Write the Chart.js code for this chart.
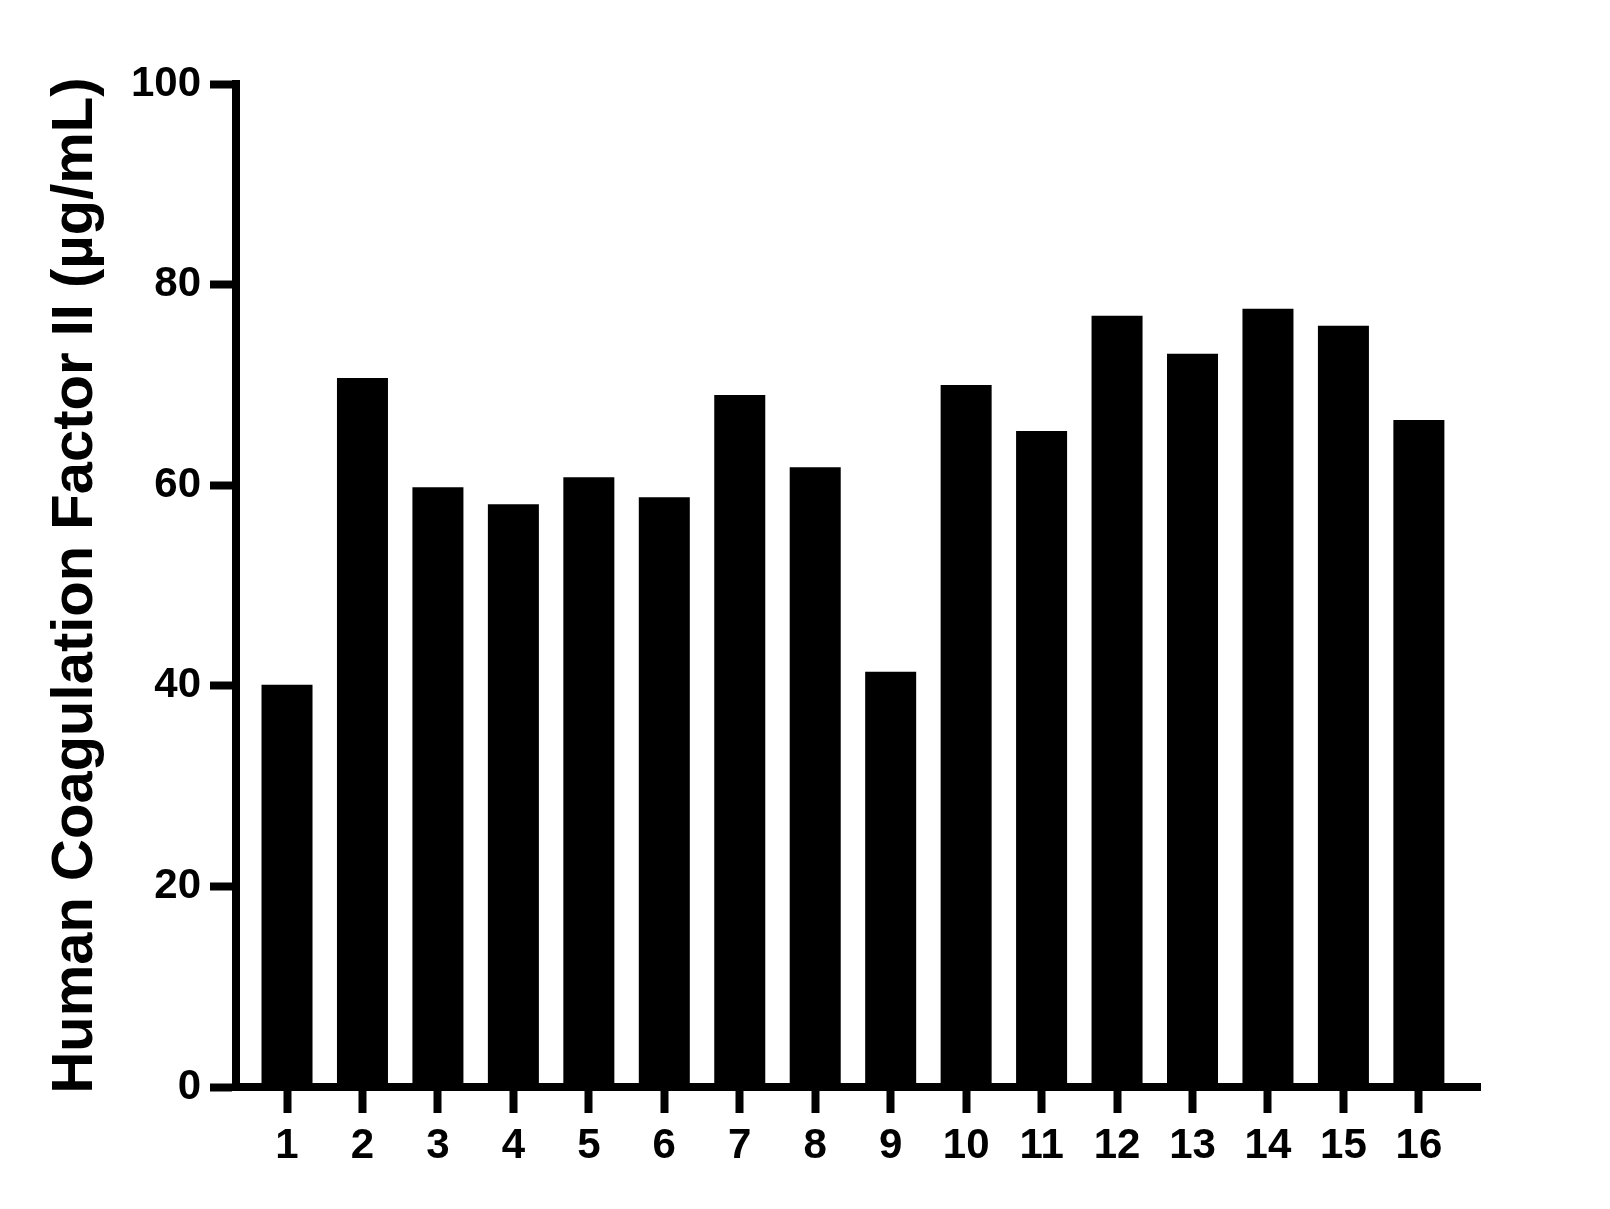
<!DOCTYPE html>
<html>
<head>
<meta charset="utf-8">
<script src="https://cdn.jsdelivr.net/npm/chart.js@4"></script>
<style>
  html, body { margin: 0; padding: 0; background: #fff; }
  #wrap { width: 1610px; height: 1209px; }
</style>
</head>
<body>
<div id="wrap"><canvas id="factor-chart"></canvas></div>
<script>
// sample numbers on the x axis
const samples = ['1', '2', '3', '4', '5', '6', '7', '8', '9', '10', '11', '12', '13', '14', '15', '16'];
// Human Coagulation Factor II, µg/mL
const concentrations = [40.1, 70.7, 59.8, 58.1, 60.8, 58.8, 69.0, 61.8, 41.4, 70.0, 65.4, 76.9, 73.1, 77.6, 75.9, 66.5];
const yTicks = [0, 20, 40, 60, 80, 100];

const ctx = document.getElementById('factor-chart');
const font = "'Liberation Sans', Arial, sans-serif";

new Chart(ctx, {
    type: 'bar',
    data: {
        datasets: [{
            data: samples.map((s, i) => ({ x: i + 1, y: concentrations[i] })),
            backgroundColor: '#000',
            borderWidth: 0,
            categoryPercentage: 1,
            barPercentage: 0.676
        }]
    },
    options: {
        responsive: true,
        maintainAspectRatio: false,
        animation: false,
        layout: { padding: { top: 84, right: 130, left: 0, bottom: 0 } },
        plugins: { legend: { display: false }, tooltip: { enabled: false } },
        scales: {
            x: {
                type: 'linear',
                offset: false,
                min: 0.324,
                max: 16.81,
                afterFit: (s) => { s.height = 122; },
                afterBuildTicks: (s) => { s.ticks = samples.map((c, i) => ({ value: i + 1 })); },
                border: { display: true, color: '#000', width: 8 },
                grid: { offset: false, drawOnChartArea: false, drawTicks: true, tickLength: 26, tickWidth: 8, tickColor: '#000' },
                ticks: {
                    autoSkip: false,
                    maxRotation: 0,
                    padding: 8,
                    color: '#000',
                    font: { family: font, size: 42, weight: 'bold' },
                    callback: (v) => samples[v - 1]
                }
            },
            y: {
                min: 0,
                max: 100,
                afterFit: (s) => { s.width = 236; },
                afterBuildTicks: (s) => { s.ticks = yTicks.map(v => ({ value: v })); },
                border: { display: true, color: '#000', width: 8 },
                grid: { drawOnChartArea: false, drawTicks: true, tickLength: 26, tickWidth: 8, tickColor: '#000' },
                ticks: {
                    padding: 9,
                    color: '#000',
                    font: { family: font, size: 42, weight: 'bold' }
                },
                title: {
                    display: true,
                    text: 'Human Coagulation Factor II (µg/mL)',
                    color: '#000',
                    font: { family: font, size: 58, weight: 'bold', lineHeight: 1.2 },
                    padding: { top: 41, bottom: 0 }
                }
            }
        }
    }
});
</script>
</body>
</html>
